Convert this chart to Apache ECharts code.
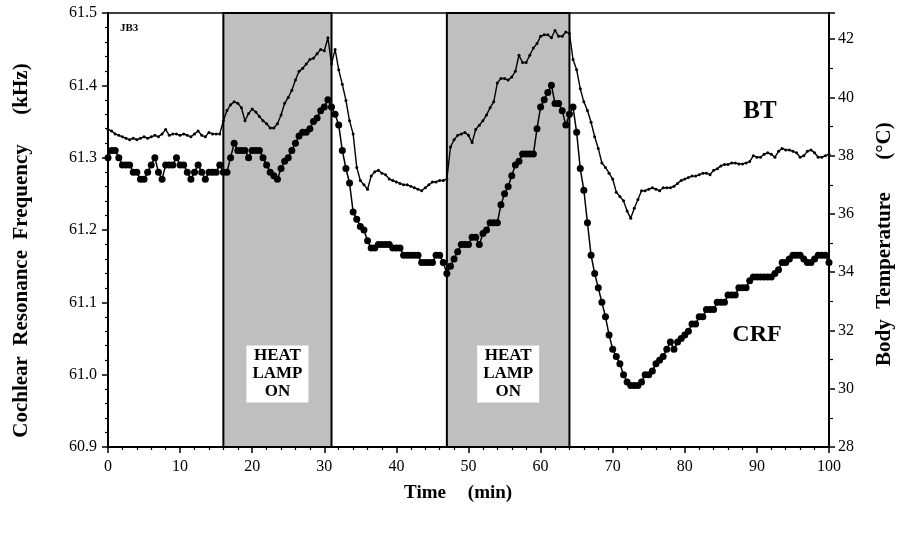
<!DOCTYPE html>
<html>
<head>
<meta charset="utf-8">
<script src="https://cdn.jsdelivr.net/npm/echarts@6/dist/echarts.min.js"></script>
<style>html,body{margin:0;padding:0;background:#fff}#c{width:906px;height:533px}</style>
</head>
<body>
<div id="c"></div>
<script>
// sample times (min)
const times = [0,0.5,1,1.5,2,2.5,3,3.5,4,4.5,5,5.5,6,6.5,7,7.5,8,8.5,9,9.5,10,10.5,11,11.5,12,12.5,13,13.5,14,14.5,15,15.5,16,
16.5,17,17.5,18,18.5,19,19.5,20,20.5,21,21.5,22,22.5,23,23.5,24,24.5,25,25.5,26,26.5,27,27.5,28,28.5,29,29.5,30,30.5,31,
31.5,32,32.5,33,33.5,34,34.5,35,35.5,36,36.5,37,37.5,38,38.5,39,39.5,40,40.5,41,41.5,42,42.5,43,43.5,44,44.5,45,45.5,46,46.5,47,
47.5,48,48.5,49,49.5,50,50.5,51,51.5,52,52.5,53,53.5,54,54.5,55,55.5,56,56.5,57,57.5,58,58.5,59,59.5,60,60.5,61,61.5,62,62.5,63,63.5,64,
64.5,65,65.5,66,66.5,67,67.5,68,68.5,69,69.5,70,70.5,71,71.5,72,72.5,73,73.5,74,74.5,75,75.5,76,76.5,77,77.5,78,78.5,79,
79.5,80,80.5,81,81.5,82,82.5,83,83.5,84,84.5,85,85.5,86,86.5,87,87.5,88,88.5,89,89.5,90,90.5,91,91.5,92,92.5,93,93.5,94,
94.5,95,95.5,96,96.5,97,97.5,98,98.5,99,99.5,100];

// Cochlear resonance frequency (kHz)
const crfValues = [61.30,61.31,61.31,61.30,61.29,61.29,61.29,61.28,61.28,61.27,61.27,61.28,61.29,61.30,61.28,61.27,61.29,61.29,61.29,61.30,61.29,61.29,61.28,61.27,61.28,61.29,61.28,61.27,61.28,61.28,61.28,61.29,61.28,
61.28,61.30,61.32,61.31,61.31,61.31,61.30,61.31,61.31,61.31,61.30,61.29,61.28,61.275,61.27,61.285,61.295,61.30,61.31,61.32,61.33,61.335,61.335,61.34,61.35,61.355,61.365,61.37,61.38,61.37,
61.36,61.345,61.31,61.285,61.265,61.225,61.215,61.205,61.20,61.185,61.175,61.175,61.18,61.18,61.18,61.18,61.175,61.175,61.175,61.165,61.165,61.165,61.165,61.165,61.155,61.155,61.155,61.155,61.165,61.165,61.155,61.14,
61.15,61.16,61.17,61.18,61.18,61.18,61.19,61.19,61.18,61.195,61.20,61.21,61.21,61.21,61.235,61.25,61.26,61.275,61.29,61.295,61.305,61.305,61.305,61.305,61.34,61.37,61.38,61.39,61.40,61.375,61.375,61.365,61.345,61.36,
61.37,61.335,61.285,61.255,61.21,61.165,61.14,61.12,61.10,61.08,61.055,61.035,61.025,61.015,61.0,60.99,60.985,60.985,60.985,60.99,
61.0,61.0,61.005,61.015,61.02,61.025,61.035,61.045,61.035,61.045,61.05,61.055,61.06,61.07,61.07,61.08,61.08,61.09,61.09,61.09,
61.10,61.10,61.10,61.11,61.11,61.11,61.12,61.12,61.12,61.13,61.135,61.135,61.135,61.135,61.135,61.135,61.14,61.145,61.155,61.155,
61.16,61.165,61.165,61.165,61.16,61.155,61.155,61.16,61.165,61.165,61.165,61.155];

// Body temperature (°C)
const btValues = [38.9,38.85,38.75,38.7,38.65,38.6,38.55,38.6,38.55,38.6,38.65,38.6,38.65,38.7,38.65,38.75,38.9,38.7,38.75,38.75,38.7,38.75,38.7,38.65,38.75,38.85,38.7,38.65,38.8,38.75,38.75,38.75,39.2,
39.55,39.75,39.85,39.8,39.65,39.2,39.45,39.6,39.5,39.35,39.2,39.1,38.95,38.95,39.1,39.4,39.8,40.0,40.25,40.6,40.9,41.0,41.15,41.3,41.35,41.5,41.65,41.6,42.05,41.15,
41.65,40.95,40.45,39.9,39.2,38.75,37.6,37.15,37.0,36.85,37.3,37.45,37.5,37.4,37.35,37.2,37.15,37.1,37.05,37.0,37.0,36.95,36.9,36.85,36.8,36.9,37.0,37.1,37.1,37.15,37.15,37.2,
38.3,38.55,38.7,38.75,38.8,38.7,38.45,38.9,39.05,39.2,39.4,39.65,39.85,40.5,40.65,40.65,40.6,40.7,40.9,41.45,41.2,41.2,41.45,41.7,41.85,42.1,42.15,42.15,42.05,42.3,42.1,42.1,42.25,42.2,
41.3,40.95,40.3,39.85,39.55,39.15,38.65,38.25,37.75,37.6,37.4,37.2,36.75,36.6,36.45,36.1,35.85,36.2,36.5,36.8,
36.8,36.85,36.9,36.85,36.8,36.9,36.9,36.9,36.95,37.05,37.15,37.2,37.25,37.3,37.3,37.35,37.4,37.4,37.35,37.5,
37.55,37.65,37.7,37.7,37.75,37.75,37.72,37.72,37.75,37.8,38.0,37.95,37.95,38.05,38.1,38.05,37.95,38.15,38.25,38.2,
38.2,38.15,38.1,37.95,38.0,38.15,38.2,38.1,37.95,37.95,38.0,38.05];

// heat lamp periods (min)
const lampPeriods = [[16, 31], [47, 64]];
const lampLabel = 'HEAT\nLAMP\nON';

const serif = 'Liberation Serif';
const chart = echarts.init(document.getElementById('c'), null, {renderer: 'canvas'});

const crfData = times.map((t, i) => [t, crfValues[i]]);
const btData = times.map((t, i) => [t, btValues[i]]);

const titleFont = 'bold 21px "Liberation Serif"';

chart.setOption({
  animation: false,
  backgroundColor: '#fff',
  grid: {left: 108, right: 77, top: 13, bottom: 86, show: true, borderColor: '#000', borderWidth: 1.5, backgroundColor: 'transparent'},
  xAxis: {
    type: 'value', min: 0, max: 100, interval: 10,
    axisLine: {show: true, lineStyle: {color: '#000', width: 2}},
    axisTick: {show: true, length: 6, lineStyle: {color: '#000', width: 1.5}},
    minorTick: {show: true, splitNumber: 5, length: 3, lineStyle: {color: '#000', width: 1.2}},
    splitLine: {show: false},
    axisLabel: {color: '#000', fontFamily: serif, fontSize: 16, margin: 12}
  },
  yAxis: [{
    type: 'value', min: 60.9, max: 61.5, interval: 0.1, position: 'left',
    axisLine: {show: true, lineStyle: {color: '#000', width: 2}},
    axisTick: {show: true, length: 6, lineStyle: {color: '#000', width: 1.5}},
    minorTick: {show: true, splitNumber: 5, length: 3, lineStyle: {color: '#000', width: 1.2}},
    splitLine: {show: false},
    axisLabel: {color: '#000', fontFamily: serif, fontSize: 16, margin: 11, formatter: v => v.toFixed(1)}
  }, {
    type: 'value', min: 28, max: 42.9, interval: 2, position: 'right',
    axisLine: {show: true, lineStyle: {color: '#000', width: 2}},
    axisTick: {show: true, length: 6, lineStyle: {color: '#000', width: 1.5}},
    minorTick: {show: true, splitNumber: 2, length: 4, lineStyle: {color: '#000', width: 1.2}},
    splitLine: {show: false},
    axisLabel: {color: '#000', fontFamily: serif, fontSize: 16, margin: 9, showMaxLabel: false}
  }],
  series: [{
    name: 'CRF', type: 'line', yAxisIndex: 0, data: crfData,
    symbol: 'circle', symbolSize: 7, showSymbol: true,
    lineStyle: {color: '#000', width: 1.5}, itemStyle: {color: '#000'}, z: 3,
    markArea: {
      silent: true,
      itemStyle: {color: '#bfbfbf', borderColor: '#000', borderWidth: 2},
      label: {show: true, position: ['50%', '83%'], align: 'center', verticalAlign: 'middle',
        formatter: lampLabel, fontFamily: serif, fontWeight: 'bold', fontSize: 17, lineHeight: 18,
        color: '#000', backgroundColor: '#fff', padding: [2, 6, 1, 6]},
      data: lampPeriods.map(p => [{xAxis: p[0]}, {xAxis: p[1]}])
    }
  }, {
    name: 'BT', type: 'line', yAxisIndex: 1, data: btData,
    symbol: 'circle', symbolSize: 3, showSymbol: true,
    lineStyle: {color: '#000', width: 1.4}, itemStyle: {color: '#000'}, z: 3
  }],
  graphic: [
    {type: 'text', left: 120, top: 23, style: {text: 'JB3', font: 'bold 11px "Liberation Serif"', fill: '#000'}},
    {type: 'text', x: 760, y: 112, style: {text: 'BT', font: 'bold 25px "Liberation Serif"', fill: '#000', align: 'center', verticalAlign: 'middle'}},
    {type: 'text', x: 757, y: 335, style: {text: 'CRF', font: 'bold 24px "Liberation Serif"', fill: '#000', align: 'center', verticalAlign: 'middle'}},
    {type: 'text', x: 22, y: 291, rotation: Math.PI / 2, style: {text: 'Cochlear  Resonance  Frequency', font: titleFont, fill: '#000', align: 'center', verticalAlign: 'middle'}},
    {type: 'text', x: 22, y: 89, rotation: Math.PI / 2, style: {text: '(kHz)', font: titleFont, fill: '#000', align: 'center', verticalAlign: 'middle'}},
    {type: 'text', x: 885, y: 279, rotation: Math.PI / 2, style: {text: 'Body  Temperature', font: titleFont, fill: '#000', align: 'center', verticalAlign: 'middle'}},
    {type: 'text', x: 885, y: 141, rotation: Math.PI / 2, style: {text: '(°C)', font: titleFont, fill: '#000', align: 'center', verticalAlign: 'middle'}},
    {type: 'text', x: 425, y: 493, style: {text: 'Time', font: 'bold 19px "Liberation Serif"', fill: '#000', align: 'center', verticalAlign: 'middle'}},
    {type: 'text', x: 490, y: 493, style: {text: '(min)', font: 'bold 19px "Liberation Serif"', fill: '#000', align: 'center', verticalAlign: 'middle'}}
  ]
});
</script>
</body>
</html>
